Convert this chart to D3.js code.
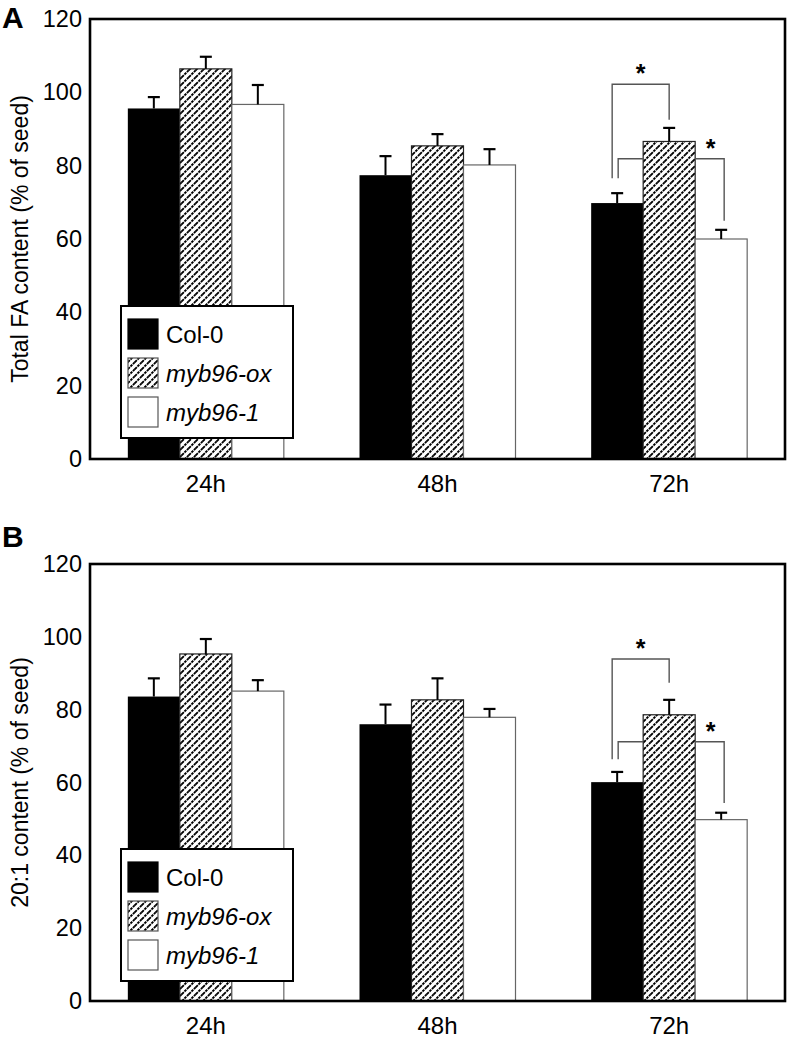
<!DOCTYPE html>
<html><head><meta charset="utf-8">
<script src="https://cdn.jsdelivr.net/npm/d3@7"></script>
<style>body{margin:0;background:#fff}svg{display:block;font-family:"Liberation Sans",Arial,sans-serif}</style>
</head><body>
<svg id="c" width="793" height="1040"></svg>
<script>
// ---- data ----
const timepoints = ["24h", "48h", "72h"];
const genotypes = ["Col-0", "myb96-ox", "myb96-1"];
const yTicks = [0, 20, 40, 60, 80, 100, 120];
// Panel A: Total FA content (% of seed), rows = timepoints, cols = genotypes
const faMean = [[95.6, 106.4, 96.7], [77.4, 85.4, 80.2], [69.8, 86.6, 60.0]];
const faErr  = [[3.1, 3.3, 5.3], [5.2, 3.2, 4.3], [2.7, 3.7, 2.5]];
// Panel B: 20:1 content (% of seed)
const c201Mean = [[83.6, 95.3, 85.1], [76.0, 82.7, 77.9], [60.1, 78.6, 49.8]];
const c201Err  = [[5.0, 4.1, 3.0], [5.4, 5.9, 2.3], [2.8, 4.1, 1.9]];
// significance brackets at 72h (genotype index pairs, levels in data units)
const faSig   = [{a: 0, b: 1, level: 102.2, endA: 76.6, endB: 92.5}, {a: 0, b: 2, level: 81.9, endA: 76.6, endB: 65.0}];
const c201Sig = [{a: 0, b: 1, level: 93.9, endA: 66.4, endB: 87.4}, {a: 0, b: 2, level: 71.2, endA: 66.4, endB: 54.4}];

const svg = d3.select("#c");
const defs = svg.append("defs");
const pat = defs.append("pattern").attr("id", "hatch").attr("patternUnits", "userSpaceOnUse")
  .attr("width", 7).attr("height", 7);
pat.append("rect").attr("width", 7).attr("height", 7).attr("fill", "#fff");
pat.append("path").attr("d", "M-1,1 l2,-2 M0,7 l7,-7 M6,8 l2,-2")
  .attr("stroke", "#000").attr("stroke-width", 1.9).attr("stroke-dasharray", "2.6,0.9");

const fills = ["#000", "url(#hatch)", "#fff"];
const strokes = ["#000", "#222", "#666"];

function panel(o) {
  const left = 90, right = 785;
  const x0 = d3.scaleBand().domain(timepoints).range([left, right]).padding(0);
  const x1 = d3.scaleBand().domain(genotypes).range([0, 156]);
  const off = (x0.bandwidth() - 156) / 2;
  const y = d3.scaleLinear().domain([0, 120]).range([o.bottom, o.top]);
  const g = svg.append("g");

  // bars
  timepoints.forEach((t, i) => {
    genotypes.forEach((gn, j) => {
      const bx = x0(t) + off + x1(gn);
      g.append("rect").attr("x", bx).attr("y", y(o.mean[i][j]))
        .attr("width", x1.bandwidth()).attr("height", y(0) - y(o.mean[i][j]))
        .attr("fill", fills[j]).attr("stroke", strokes[j]).attr("stroke-width", j === 0 ? 0 : 1.2);
      const cx = bx + x1.bandwidth() / 2;
      const top = y(o.mean[i][j] + o.err[i][j]);
      g.append("line").attr("x1", cx).attr("x2", cx).attr("y1", y(o.mean[i][j])).attr("y2", top)
        .attr("stroke", "#000").attr("stroke-width", 2);
      g.append("line").attr("x1", cx - 6).attr("x2", cx + 6).attr("y1", top).attr("y2", top)
        .attr("stroke", "#000").attr("stroke-width", 2.2);
    });
  });

  // significance brackets at 72h
  const t72 = timepoints[2];
  const cen = j => x0(t72) + off + x1(genotypes[j]) + x1.bandwidth() / 2;
  const s0 = o.sig[0];
  const lx = cen(s0.a) - 5, rx = cen(s0.b);
  g.append("path").attr("d", `M${lx},${y(s0.endA)}V${y(s0.level)}H${rx}V${y(s0.endB)}`)
    .attr("fill", "none").attr("stroke", "#555").attr("stroke-width", 1.4);
  g.append("text").attr("x", (lx + rx) / 2).attr("y", y(s0.level) - 2).attr("text-anchor", "middle")
    .attr("font-size", 25).attr("font-weight", "bold").text("*");
  const s1 = o.sig[1];
  const barL = x0(t72) + off + x1(genotypes[1]);
  const barR = barL + x1.bandwidth();
  const lx2 = cen(s1.a) + 1, rx2 = cen(s1.b) + 3;
  g.append("path").attr("d", `M${lx2},${y(s1.endA)}V${y(s1.level)}H${barL}`)
    .attr("fill", "none").attr("stroke", "#555").attr("stroke-width", 1.4);
  g.append("path").attr("d", `M${barR},${y(s1.level)}H${rx2}V${y(s1.endB)}`)
    .attr("fill", "none").attr("stroke", "#555").attr("stroke-width", 1.4);
  g.append("text").attr("x", (barR + rx2) / 2 + 1).attr("y", y(s1.level) - 2).attr("text-anchor", "middle")
    .attr("font-size", 25).attr("font-weight", "bold").text("*");

  // frame
  g.append("rect").attr("x", left).attr("y", o.top).attr("width", right - left).attr("height", o.bottom - o.top)
    .attr("fill", "none").attr("stroke", "#000").attr("stroke-width", 2.6);

  // y axis labels
  const ya = g.append("g").attr("transform", `translate(${left},0)`)
    .call(d3.axisLeft(y).tickValues(yTicks).tickSize(0).tickPadding(8));
  ya.select(".domain").remove();
  ya.selectAll("text").attr("font-size", 23.5).attr("font-family", "Liberation Sans, Arial, sans-serif").attr("fill", "#000");

  // x axis labels
  const xa = g.append("g").attr("transform", `translate(0,${o.bottom})`)
    .call(d3.axisBottom(x0).tickSize(0).tickPadding(16));
  xa.select(".domain").remove();
  xa.selectAll("text").attr("font-size", 24).attr("font-family", "Liberation Sans, Arial, sans-serif").attr("fill", "#000");

  // y title
  g.append("text").attr("transform", `translate(28,${(o.top + o.bottom) / 2}) rotate(-90)`)
    .attr("text-anchor", "middle").attr("font-size", 23).text(o.title);

  // panel letter
  g.append("text").attr("x", 2).attr("y", o.letterY).attr("font-size", 30).attr("font-weight", "bold").text(o.letter);

  // legend
  const lg = g.append("g").attr("transform", `translate(121,${o.legendTop})`);
  lg.append("rect").attr("width", 172).attr("height", 132).attr("fill", "#fff").attr("stroke", "#000").attr("stroke-width", 2);
  genotypes.forEach((gn, j) => {
    lg.append("rect").attr("x", 7).attr("y", 13 + j * 39).attr("width", 30).attr("height", 30)
      .attr("fill", fills[j]).attr("stroke", j === 0 ? "#000" : "#555").attr("stroke-width", 1.2);
    lg.append("text").attr("x", 45).attr("y", 37 + j * 39).attr("font-size", 24)
      .attr("font-style", j === 0 ? "normal" : "italic").text(gn);
  });
}

panel({top: 19, bottom: 459, mean: faMean, err: faErr, sig: faSig, title: "Total FA content (% of seed)", letter: "A", letterY: 28, legendTop: 306});
panel({top: 564, bottom: 1001, mean: c201Mean, err: c201Err, sig: c201Sig, title: "20:1 content (% of seed)", letter: "B", letterY: 547, legendTop: 849});
</script>
</body></html>
